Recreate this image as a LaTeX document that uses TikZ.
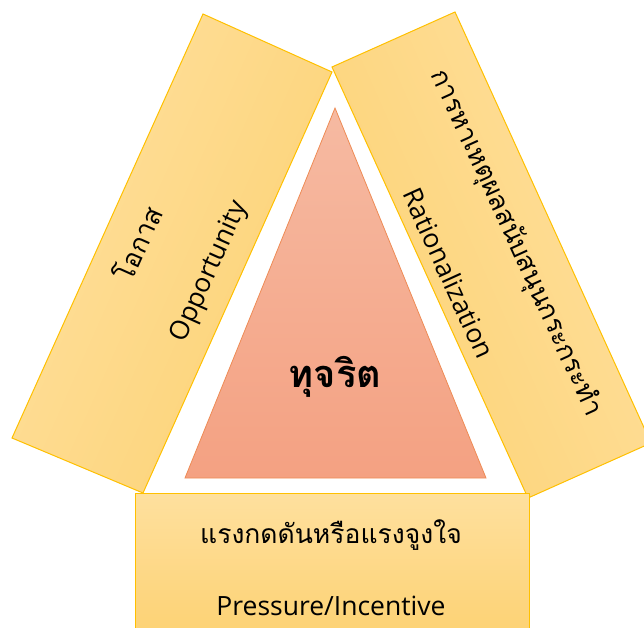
\documentclass[tikz,border=0pt]{standalone}
\usepackage{fontspec}
\setmainfont{Open Sans}
\newfontfamily\thaifont[Script=Thai]{Loma}
\definecolor{barlight}{HTML}{FEE09E}
\definecolor{bardark}{HTML}{FDD274}
\definecolor{barline}{HTML}{FFC000}
\definecolor{coretop}{HTML}{F6BAA2}
\definecolor{corebottom}{HTML}{F4A182}
\definecolor{coreline}{HTML}{EE8B55}

\begin{document}
\begin{tikzpicture}[x=1pt, y=1pt,
	bar/.style={draw=barline, line width=1pt, top color=barlight, bottom color=bardark},
	thaitext/.style={font=\thaifont\fontsize{26.5}{30}\selectfont, inner sep=0pt},
	engtext/.style={font=\fontsize{26.5}{30}\selectfont, inner sep=0pt}]
			%%%%% START %%%%%
			\useasboundingbox (0,0) rectangle (644,627);
			\clip (0,0) rectangle (644,627);
			
			\path[bar, shading angle=66] (203,613) -- (332,555) -- (143,134) -- (12,189) -- cycle;
			\path[bar, shading angle=-66] (332,560) -- (455,615) -- (651,184) -- (528,129) -- cycle;
			\path[bar] (135,134) rectangle (529,-8);
			
			\path[draw=coreline, line width=0.8pt, top color=coretop, bottom color=corebottom] (335,519) -- (486,149) -- (185,149) -- cycle;
			
			\node[thaitext, rotate=65.8] (opp_th) at (137,384) {โอกาส};
			\node[engtext, rotate=65.8] (opp_en) at (210,355) {Opportunity};
			
			\node[thaitext, rotate=-65.5] (rat_th) at (516,384) {การหาเหตุผลสนับสนุนกระกระทำ};
			\node[engtext, rotate=-65.5] (rat_en) at (449,354) {Rationalization};
			
			\node[thaitext] (prs_th) at (331,92) {แรงกดดันหรือแรงจูงใจ};
			\node[engtext, anchor=base] (prs_en) at (331,12) {Pressure/Incentive};
			
			\node[font=\thaifont\bfseries\fontsize{38}{42}\selectfont] (core) at (335,250) {ทุจริต};
			%%%%% END %%%%%
\end{tikzpicture}
\end{document}
